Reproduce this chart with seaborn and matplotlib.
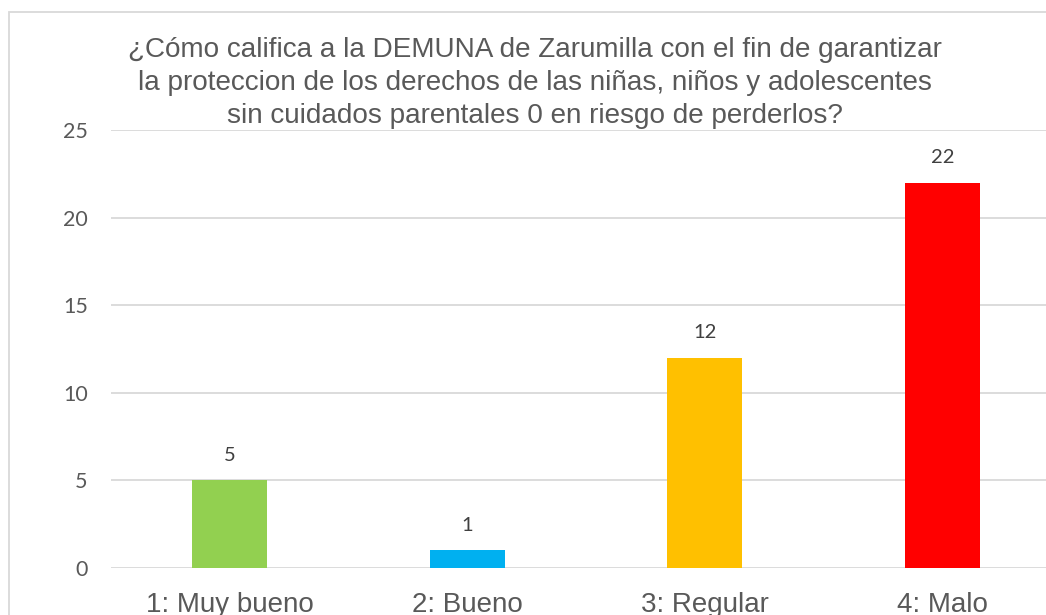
import matplotlib
matplotlib.use("Agg")
import matplotlib.pyplot as plt
import seaborn as sns
import pandas as pd
from matplotlib.patches import Rectangle

# === Data ===
categorias = ["1: Muy bueno", "2: Bueno", "3: Regular", "4: Malo"]
valores = [5, 1, 12, 22]
colores = ["#92D050", "#00B0F0", "#FFC000", "#FF0000"]
titulo = ("¿Cómo califica a la DEMUNA de Zarumilla con el fin de garantizar\n"
          "la proteccion de los derechos de las niñas, niños y adolescentes\n"
          "sin cuidados parentales 0 en riesgo de perderlos?")

df = pd.DataFrame({"categoria": categorias, "valor": valores})

sns.set_style("white")
plt.rcParams['font.family'] = ['Liberation Sans', 'DejaVu Sans']

fig = plt.figure(figsize=(10.46, 6.15), dpi=100)
ax = fig.add_axes([0.1058, 0.0764, 0.9086, 0.7122])

sns.barplot(data=df, x="categoria", y="valor", hue="categoria",
            palette=colores, legend=False, width=0.316, saturation=1,
            linewidth=0, ax=ax)

# === Labels on bars ===
for c in ax.containers:
    ax.bar_label(c, padding=12, fontsize=14.5, color="#404040", family="Lato")

ax.set_ylim(0, 25)
ax.set_yticks(range(0, 26, 5))
ax.yaxis.grid(True, color="#D9D9D9", linewidth=1.3)
ax.set_axisbelow(True)
for s in ax.spines.values():
    s.set_visible(False)
ax.set_xlabel("")
ax.set_ylabel("")
ax.tick_params(axis="both", length=0)
ax.tick_params(axis="y", pad=16.5, labelsize=15.5, labelcolor="#595959")
ax.tick_params(axis="x", pad=17.5, labelsize=20, labelcolor="#595959")
for lbl in ax.get_yticklabels():
    lbl.set_family("Lato")

# === Title ===
fig.text(0.511, 0.94, titulo, ha="center", va="top", fontsize=20.1,
         color="#595959", linespacing=1.36)

# === Chart border ===
fig.patches.append(Rectangle((8.5 / 1046, -0.1), 1.2, 1.1 - 11.5 / 615,
                             transform=fig.transFigure, fill=False,
                             edgecolor="#D9D9D9", linewidth=1.3))

fig.savefig("out.png", dpi=100)
plt.close(fig)
